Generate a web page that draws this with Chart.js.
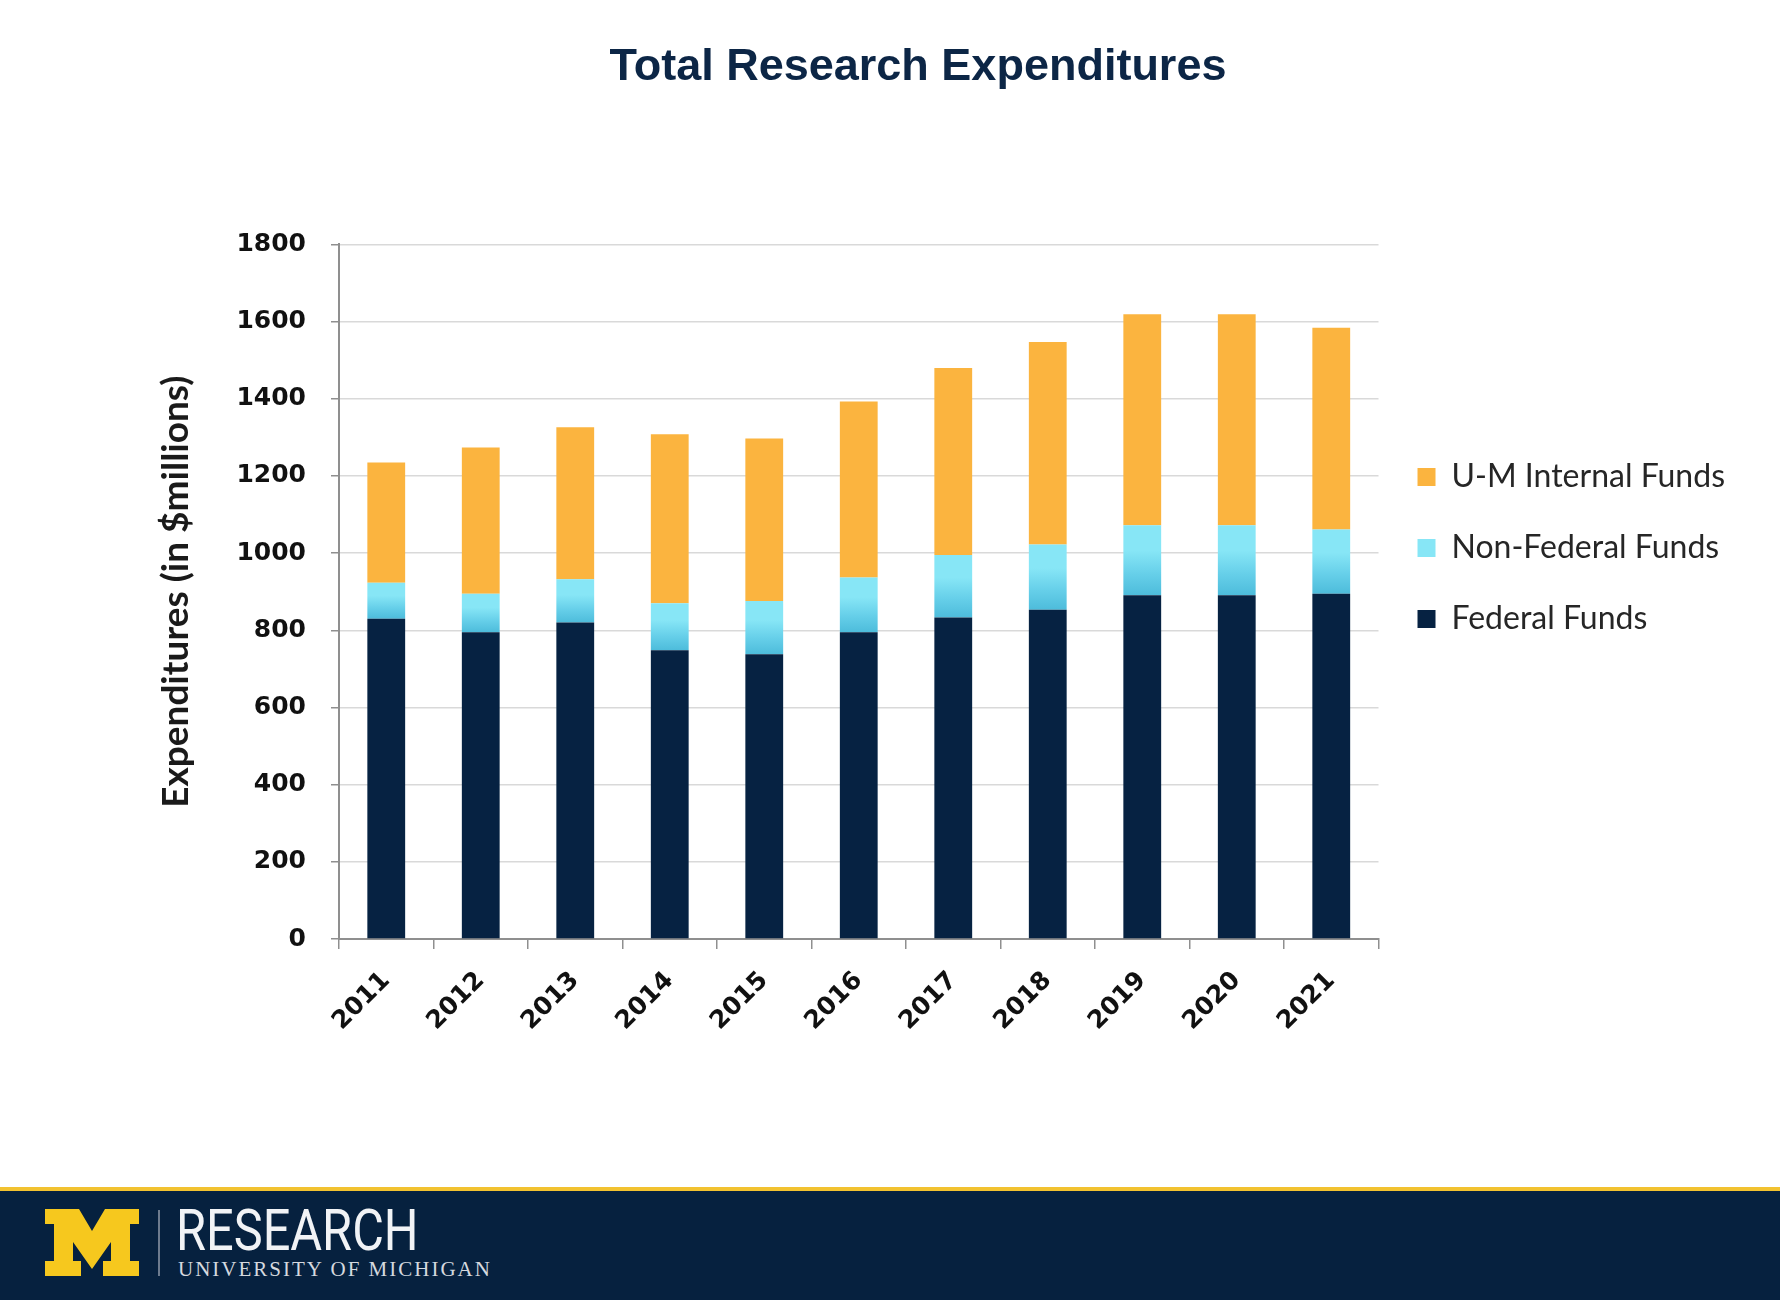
<!DOCTYPE html>
<html>
<head>
<meta charset="utf-8">
<title>Total Research Expenditures</title>
<script src="https://cdn.jsdelivr.net/npm/chart.js@4.4.1/dist/chart.umd.min.js"></script>
<style>
  html, body { margin: 0; padding: 0; background: #ffffff; width: 1780px; height: 1300px; overflow: hidden; }
  #wrap { position: absolute; left: 0; top: 0; width: 1780px; height: 1187px; }
  #footer { position: absolute; left: 0; top: 1187px; width: 1780px; height: 113px; background: #06213f; border-top: 4px solid #f2c230; box-sizing: border-box; }
  #logoM { position: absolute; left: 45px; top: 18px; }
  #divider { position: absolute; left: 158px; top: 19px; width: 2px; height: 66px; background: #6d7b8e; }
  #research { position: absolute; left: 176px; top: 6px; font-family: Roboto, 'Liberation Sans', sans-serif; font-weight: 400; font-size: 58px; line-height: 66px; color: #f1f3f6; transform: scaleX(0.84); transform-origin: left top; }
  #umich { position: absolute; left: 178px; top: 66px; font-family: 'Liberation Serif', 'DejaVu Serif', serif; font-size: 21px; line-height: 24px; color: #d5d9df; letter-spacing: 2px; }
</style>
</head>
<body>
<div id="wrap"><canvas id="chart"></canvas></div>
<div id="footer">
  <svg id="logoM" width="94" height="67" viewBox="0 0 94 67">
    <polygon fill="#f6c81e" points="0,0 34,0 47,22 60,0 94,0 94,15 85,15 85,52 94,52 94,67 58,67 58,52 66,52 66,33 47,60 28,33 28,52 36,52 36,67 0,67 0,52 9,52 9,15 0,15"/>
  </svg>
  <div id="divider"></div>
  <div id="research">RESEARCH</div>
  <div id="umich">UNIVERSITY OF MICHIGAN</div>
</div>
<script>
// ---- data (in $ millions) ----
const years = ['2011','2012','2013','2014','2015','2016','2017','2018','2019','2020','2021'];
const federalFunds    = [830, 795, 820, 748, 738, 795, 833, 853, 891, 891, 895];
const nonFederalFunds = [ 93, 100, 112, 122, 138, 142, 162, 169, 181, 181, 166];
const internalFunds   = [312, 379, 394, 438, 421, 456, 485, 525, 547, 547, 523];
const yTickValues = [0, 200, 400, 600, 800, 1000, 1200, 1400, 1600, 1800];
const seriesNames = ['Federal Funds', 'Non-Federal Funds', 'U-M Internal Funds'];

function nonFedFill(ctx) {
  const chart = ctx.chart;
  const y = chart.scales && chart.scales.y;
  if (ctx.type !== 'data' || !y || !chart.chartArea) return '#72d6ee';
  const i = ctx.dataIndex;
  const top = y.getPixelForValue(federalFunds[i] + nonFederalFunds[i]);
  const bot = y.getPixelForValue(federalFunds[i]);
  if (!isFinite(top) || !isFinite(bot) || top === bot) return '#72d6ee';
  const g = chart.ctx.createLinearGradient(0, top, 0, bot);
  g.addColorStop(0, '#87e6f6');
  g.addColorStop(0.36, '#87e6f6');
  g.addColorStop(0.7, '#66cfe9');
  g.addColorStop(1, '#4dbcdb');
  return g;
}

const tickFont = { family: 'DejaVu Sans', size: 25, weight: 'bold' };

function draw() {
  new Chart(document.getElementById('chart'), {
    type: 'bar',
    data: {
      labels: years,
      datasets: [
        { label: seriesNames[0], data: federalFunds, backgroundColor: '#062242', borderWidth: 0 },
        { label: seriesNames[1], data: nonFederalFunds, backgroundColor: nonFedFill, borderWidth: 0 },
        { label: seriesNames[2], data: internalFunds, backgroundColor: '#fbb43f', borderWidth: 0 }
      ]
    },
    options: {
      responsive: true,
      maintainAspectRatio: false,
      animation: false,
      devicePixelRatio: 1,
      barPercentage: 0.4,
      categoryPercentage: 1.0,
      layout: { padding: { left: 101, right: 45, top: 0, bottom: 91 } },
      plugins: {
        tooltip: { enabled: false },
        title: {
          display: true,
          text: 'Total Research Expenditures',
          color: '#0c2646',
          font: { family: 'Liberation Sans', size: 45, weight: 'bold' },
          padding: { top: 41, bottom: 149.4 }
        },
        legend: {
          display: true,
          position: 'right',
          align: 'center',
          reverse: true,
          labels: {
            boxWidth: 18,
            boxHeight: 18,
            padding: 39,
            color: '#262626',
            font: { family: 'Lato', size: 32 }
          }
        }
      },
      scales: {
        x: {
          stacked: true,
          grid: { display: true, drawOnChartArea: false, offset: true, tickLength: 10, color: '#8f8f8f', lineWidth: 1.5 },
          border: { display: true, color: '#8f8f8f', width: 2 },
          ticks: { autoSkip: false, minRotation: 45, maxRotation: 45, color: '#111111', font: tickFont, padding: 17 },
          afterFit: (s) => { s.height = 157; }
        },
        y: {
          stacked: true,
          min: 0,
          max: 1800,
          afterBuildTicks: (s) => { s.ticks = yTickValues.map(v => ({ value: v })); },
          ticks: { color: '#111111', font: tickFont, padding: 25, callback: (v) => String(v) },
          grid: { color: '#d9d9d9', lineWidth: 1.5, tickLength: 8, tickColor: '#8f8f8f' },
          border: { display: true, color: '#8f8f8f', width: 2 },
          title: {
            display: true,
            text: 'Expenditures (in $millions)',
            color: '#1a1a1a',
            font: { family: 'Lato', size: 37, weight: 'bold' },
            padding: { top: 53, bottom: 0 }
          },
          afterFit: (s) => { s.width = 238; }
        }
      }
    }
  });
}

if (document.fonts && document.fonts.load) {
  Promise.all([
    document.fonts.load('bold 25px "DejaVu Sans"'),
    document.fonts.load('bold 37px Lato'),
    document.fonts.load('32px Lato'),
    document.fonts.load('bold 45px "Liberation Sans"')
  ]).then(draw, draw);
} else { draw(); }
</script>
</body>
</html>
